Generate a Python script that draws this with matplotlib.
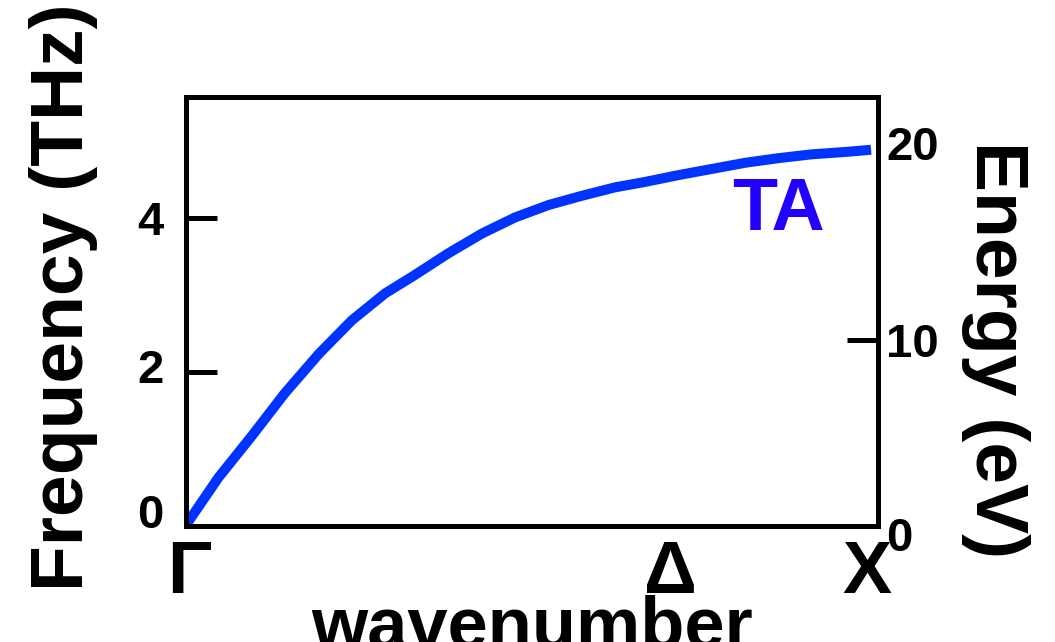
import matplotlib
matplotlib.use("Agg")
import matplotlib.pyplot as plt
from matplotlib.transforms import ScaledTranslation
from matplotlib.ticker import FixedLocator

# TA phonon branch along Gamma -> X (fraction of the zone path, frequency in THz)
k_frac = [0.000, 0.047, 0.095, 0.143, 0.192, 0.240, 0.288, 0.331, 0.379,
          0.428, 0.476, 0.524, 0.572, 0.620, 0.663, 0.712, 0.760, 0.808,
          0.856, 0.904, 0.952, 0.990]
freq_thz = [0.00, 0.62, 1.16, 1.72, 2.23, 2.67, 3.02, 3.26, 3.54,
            3.80, 4.01, 4.17, 4.29, 4.40, 4.47, 4.56, 4.64, 4.72,
            4.78, 4.83, 4.86, 4.89]

k_ticks = [0.0, 0.70, 1.0]
k_labels = ["Γ", "Δ", "X"]
freq_ticks = [0, 2, 4]
energy_ticks = [0, 10, 20]
branch_name = "TA"

THZ_TO_MEV = 4.1357
FREQ_MAX = 5.58

plt.rcParams["font.family"] = ["Liberation Sans", "DejaVu Sans"]
plt.rcParams["font.weight"] = "bold"

LINE_BLUE = "#0033ff"
LABEL_BLUE = "#2200ff"
SPINE_W = 3.6

fig = plt.figure(figsize=(10.55, 6.42), dpi=100)
ax = fig.add_axes([0.17602, 0.18146, 0.65621, 0.66792])

ax.plot(k_frac, freq_thz, color=LINE_BLUE, lw=7.2, solid_capstyle="butt")
ax.set_xlim(0, 1)
ax.set_ylim(0, FREQ_MAX)

for sp in ax.spines.values():
    sp.set_linewidth(SPINE_W)
    sp.set_zorder(3)

# left axis: frequency
ax.set_yticks(freq_ticks)
ax.set_yticklabels([str(v) for v in freq_ticks])
ax.tick_params(axis="y", direction="in", length=22, width=SPINE_W,
               labelsize=34, pad=16)
for lab in ax.get_yticklabels():
    lab.set_fontweight("bold")


def shift(label, dx_px=0, dy_px=0):
    off = ScaledTranslation(dx_px / 100, dy_px / 100, fig.dpi_scale_trans)
    label.set_transform(label.get_transform() + off)


ylabs = ax.get_yticklabels()
shift(ylabs[0], 0, 15)
shift(ylabs[1], 0, 6)

# bottom axis: high-symmetry points
ax.set_xticks(k_ticks)
ax.set_xticklabels(k_labels)
ax.tick_params(axis="x", length=0, labelsize=53, pad=9.5)
for lab in ax.get_xticklabels():
    lab.set_fontweight("bold")
shift(ax.get_xticklabels()[0], 3, 0)
shift(ax.get_xticklabels()[2], -11, 0)

ax.set_xlabel("wavenumber", fontsize=52, fontweight="bold", va="top")
ax.xaxis.set_label_coords(0.5, -0.16)

ax.set_ylabel("Frequency (THz)", fontsize=54, fontweight="bold",
              rotation=90, va="bottom", ha="center", rotation_mode="anchor")
ax.yaxis.set_label_coords(-0.1267, 0.532)

ax.text(0.79, 3.84, branch_name, color=LABEL_BLUE, fontsize=53,
        fontweight="bold", ha="left", va="baseline")

# right axis: the same scale expressed as energy
ax2 = ax.twinx()
ax2.set_ylim(0, FREQ_MAX * THZ_TO_MEV)
ax2.set_yticks(energy_ticks)
ax2.set_yticklabels([str(v) for v in energy_ticks])
ax2.yaxis.set_minor_locator(FixedLocator([FREQ_MAX * THZ_TO_MEV]))
ax2.tick_params(axis="y", which="major", direction="in", length=22,
                width=SPINE_W, labelsize=34, pad=6)
ax2.tick_params(axis="y", which="minor", direction="in", length=22,
                width=SPINE_W, labelright=False)
for sp in ax2.spines.values():
    sp.set_linewidth(SPINE_W)
for lab in ax2.get_yticklabels():
    lab.set_fontweight("bold")
majors = ax2.yaxis.get_major_ticks()
majors[0].tick2line.set_visible(False)
majors[2].tick2line.set_visible(False)
rlabs = ax2.get_yticklabels()
shift(rlabs[0], 0, -8)
shift(rlabs[2], 0, 11)

ax2.set_ylabel("Energy (eV)", fontsize=54, fontweight="bold",
               rotation=270, va="bottom", ha="center", rotation_mode="anchor")
ax2.yaxis.set_label_coords(1.12, 0.41)

fig.savefig("out.png", dpi=100)
